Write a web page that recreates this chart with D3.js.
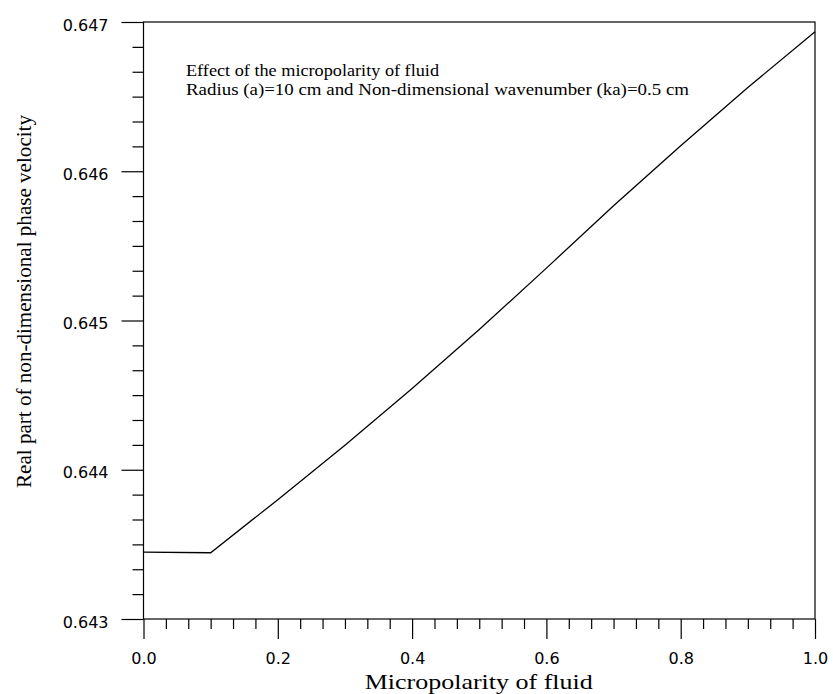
<!DOCTYPE html>
<html>
<head>
<meta charset="utf-8">
<script src="https://cdn.jsdelivr.net/npm/d3@7"></script>
<style>
  html, body { margin: 0; padding: 0; background: #fff; }
  svg { display: block; }
</style>
</head>
<body>
<svg id="chart" width="833" height="694"></svg>
<script>
// Micropolarity of fluid (x) vs real part of non-dimensional phase velocity (y)
const micropolarity = [0.0, 0.1, 0.2, 0.3, 0.4, 0.5, 0.6, 0.7, 0.8, 0.9, 1.0];
const phaseVelocity = [0.643448, 0.643444, 0.643799, 0.644164, 0.644544, 0.644939,
                       0.645351, 0.645769, 0.646171, 0.646561, 0.646935];

const xTickValues = [0.0, 0.2, 0.4, 0.6, 0.8, 1.0];
const xTickLabels = ["0.0", "0.2", "0.4", "0.6", "0.8", "1.0"];
const yTickValues = [0.643, 0.644, 0.645, 0.646, 0.647];
const yTickLabels = ["0.643", "0.644", "0.645", "0.646", "0.647"];

const annotationLines = [
  "Effect of the micropolarity of fluid",
  "Radius (a)=10 cm and Non-dimensional wavenumber (ka)=0.5 cm"
];
const xTitle = "Micropolarity of fluid";
const yTitle = "Real part of non-dimensional phase velocity";

const svg = d3.select("#chart");
const plotLeft = 143.5, plotRight = 815, plotTop = 22, plotBottom = 619;

const x = d3.scaleLinear().domain([0, 1]).range([plotLeft, plotRight]);
const y = d3.scaleLinear().domain([0.643, 0.647]).range([plotBottom, plotTop]);

// minor ticks: six subdivisions between labelled ticks
const xMinor = d3.range(0, 31).map(i => i / 30).filter((v, i) => i % 6 !== 0);
const yMinor = d3.range(0, 25).map(i => 0.643 + i * 0.004 / 24).filter((v, i) => i % 6 !== 0);

const sansFont = "'DejaVu Sans', Verdana, sans-serif";
const serifFont = "'Liberation Serif', 'Times New Roman', serif";

// frame
svg.append("rect")
  .attr("x", plotLeft).attr("y", plotTop)
  .attr("width", plotRight - plotLeft).attr("height", plotBottom - plotTop)
  .attr("fill", "none").attr("stroke", "#000").attr("stroke-width", 1.2);

// x axis
const xAxis = svg.append("g").attr("transform", `translate(0,${plotBottom})`)
  .call(d3.axisBottom(x).tickValues(xTickValues)
    .tickFormat((d, i) => xTickLabels[i]).tickSize(20).tickPadding(14));
xAxis.select(".domain").remove();
xAxis.selectAll("line").attr("stroke", "#000").attr("stroke-width", 1.2);
xAxis.selectAll("text").attr("font-family", sansFont).attr("font-size", 16).attr("fill", "#000");

svg.append("g").attr("transform", `translate(0,${plotBottom})`)
  .call(d3.axisBottom(x).tickValues(xMinor).tickSize(10).tickFormat(""))
  .call(g => g.select(".domain").remove())
  .selectAll("line").attr("stroke", "#000").attr("stroke-width", 1.2);

// y axis
const yAxis = svg.append("g").attr("transform", `translate(${plotLeft},0)`)
  .call(d3.axisLeft(y).tickValues(yTickValues)
    .tickFormat((d, i) => yTickLabels[i]).tickSize(22).tickPadding(13));
yAxis.select(".domain").remove();
yAxis.selectAll("line").attr("stroke", "#000").attr("stroke-width", 1.2);
yAxis.selectAll("text").attr("font-family", sansFont).attr("font-size", 16).attr("fill", "#000")
  .attr("dy", "0.5em");

svg.append("g").attr("transform", `translate(${plotLeft},0)`)
  .call(d3.axisLeft(y).tickValues(yMinor).tickSize(11).tickFormat(""))
  .call(g => g.select(".domain").remove())
  .selectAll("line").attr("stroke", "#000").attr("stroke-width", 1.2);

// data line
const line = d3.line().x((d, i) => x(micropolarity[i])).y(d => y(d));
svg.append("path")
  .datum(phaseVelocity)
  .attr("d", line)
  .attr("fill", "none").attr("stroke", "#000").attr("stroke-width", 1.3);

// annotation (wide serif lettering)
const annoWidths = [253, 503];
svg.append("g").selectAll("text").data(annotationLines).join("text")
  .attr("x", 186).attr("y", (d, i) => 76 + i * 19)
  .attr("font-family", serifFont).attr("font-size", 16.5).attr("fill", "#000")
  .attr("textLength", (d, i) => annoWidths[i])
  .attr("lengthAdjust", "spacingAndGlyphs")
  .text(d => d);

// axis titles
svg.append("text")
  .attr("x", (plotLeft + plotRight) / 2 - 0.5).attr("y", 689)
  .attr("text-anchor", "middle")
  .attr("font-family", serifFont).attr("font-size", 21).attr("fill", "#000")
  .attr("textLength", 228).attr("lengthAdjust", "spacingAndGlyphs")
  .text(xTitle);

svg.append("text")
  .attr("transform", `translate(31,${(115 + 488) / 2}) rotate(-90)`)
  .attr("text-anchor", "middle")
  .attr("font-family", serifFont).attr("font-size", 21).attr("fill", "#000")
  .attr("textLength", 373).attr("lengthAdjust", "spacingAndGlyphs")
  .text(yTitle);
</script>
</body>
</html>
